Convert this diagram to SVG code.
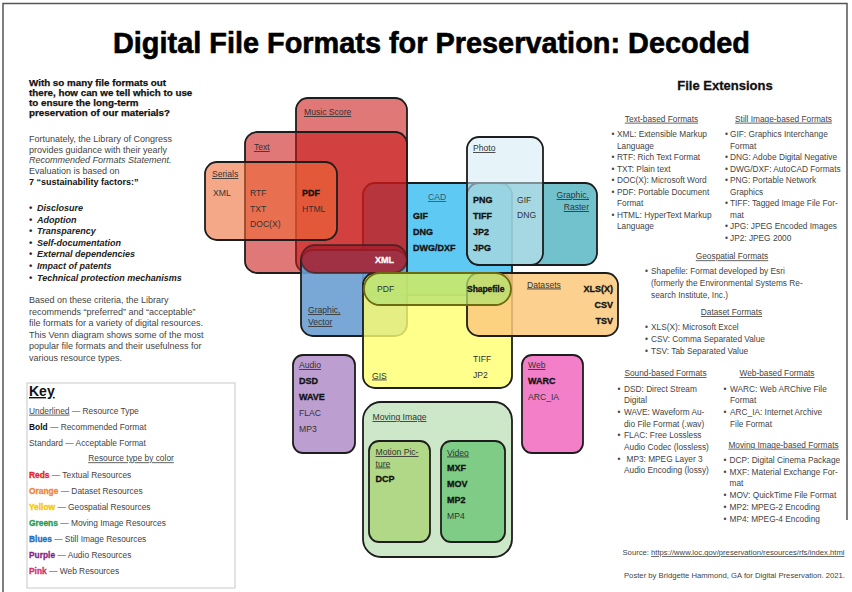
<svg xmlns="http://www.w3.org/2000/svg" width="852" height="592" viewBox="0 0 852 592">
<style>
text{font-family:"Liberation Sans",Arial,Helvetica,sans-serif}
.v{font-size:8.6px;fill:#333}
.vb{font-size:9px;font-weight:bold;fill:#111;stroke:#111;stroke-width:0.3}
.u{text-decoration:underline}
.bx{stroke:#1d1d1d;stroke-width:1.8}
.p{font-size:9px;fill:#444}
.h{font-size:9.8px;font-weight:bold;fill:#111;stroke:#111;stroke-width:0.25}
.bi{font-size:9px;font-weight:bold;font-style:italic;fill:#222}
.k{font-size:8.4px;fill:#444}
.kc{font-weight:bold;stroke-width:0.3}
.r{font-size:8.3px;fill:#444}
.rh{font-size:8.3px;fill:#444;text-decoration:underline;text-anchor:middle}
.s{font-size:7.6px;fill:#444}
.red{fill:#ca1818;fill-opacity:0.585}
</style>
<rect x="0" y="0" width="852" height="592" fill="#fff"/>
<g id="frame" fill="none" stroke="#555" stroke-width="1.5">
<path d="M3 592 V3.5 H847 V520"/>
</g>
<text id="title" x="431.5" y="53" text-anchor="middle" font-size="29" font-weight="bold" fill="#000" stroke="#000" stroke-width="0.6" textLength="637" lengthAdjust="spacingAndGlyphs">Digital File Formats for Preservation: Decoded</text>

<g id="intro">
<text class="h" x="29" y="86">With so many file formats out</text>
<text class="h" x="29" y="96">there, how can we tell which to use</text>
<text class="h" x="29" y="105.8">to ensure the long-term</text>
<text class="h" x="29" y="115.7">preservation of our materials?</text>
<text class="p" x="29" y="141.7">Fortunately, the Library of Congress</text>
<text class="p" x="29" y="152.5">provides guidance with their yearly</text>
<text class="p" x="29" y="163.3" font-style="italic">Recommended Formats Statement.</text>
<text class="p" x="29" y="174.1">Evaluation is based on</text>
<text class="p" x="29" y="185" style="font-weight:bold;fill:#111">7 “sustainability factors:”</text>
<g class="bi">
<text x="29" y="211">• <tspan x="37">Disclosure</tspan></text>
<text x="29" y="222.6">• <tspan x="37">Adoption</tspan></text>
<text x="29" y="234.2">• <tspan x="37">Transparency</tspan></text>
<text x="29" y="245.8">• <tspan x="37">Self-documentation</tspan></text>
<text x="29" y="257.4">• <tspan x="37">External dependencies</tspan></text>
<text x="29" y="269">• <tspan x="37">Impact of patents</tspan></text>
<text x="29" y="280.6">• <tspan x="37">Technical protection mechanisms</tspan></text>
</g>
<text class="p" x="29" y="303.3">Based on these criteria, the Library</text>
<text class="p" x="29" y="314.8">recommends “preferred” and “acceptable”</text>
<text class="p" x="29" y="326.3">file formats for a variety of digital resources.</text>
<text class="p" x="29" y="337.8">This Venn diagram shows some of the most</text>
<text class="p" x="29" y="349.3">popular file formats and their usefulness for</text>
<text class="p" x="29" y="360.8">various resource types.</text>
</g>

<g id="key">
<rect x="27" y="383" width="208" height="205" fill="#fff" stroke="#c8c8c8" stroke-width="1"/>
<text x="29" y="396" font-size="14" font-weight="bold" fill="#111" class="u">Key</text>
<text class="k" x="29" y="413.7"><tspan class="u">Underlined</tspan> — Resource Type</text>
<text class="k" x="29" y="429.7"><tspan style="font-weight:bold;fill:#111">Bold</tspan> — Recommended Format</text>
<text class="k" x="29" y="445.7">Standard — Acceptable Format</text>
<text class="k u" x="131" y="461.3" text-anchor="middle">Resource type by color</text>
<text class="k" x="29" y="478"><tspan class="kc" style="fill:#e8202a;stroke:#e8202a">Reds</tspan> — Textual Resources</text>
<text class="k" x="29" y="494"><tspan class="kc" style="fill:#f08536;stroke:#f08536">Orange</tspan> — Dataset Resources</text>
<text class="k" x="29" y="510"><tspan class="kc" style="fill:#f6c700;stroke:#f6c700">Yellow</tspan> — Geospatial Resources</text>
<text class="k" x="29" y="526"><tspan class="kc" style="fill:#1f9e4f;stroke:#1f9e4f">Greens</tspan> — Moving Image Resources</text>
<text class="k" x="29" y="542"><tspan class="kc" style="fill:#1f6fbf;stroke:#1f6fbf">Blues</tspan> — Still Image Resources</text>
<text class="k" x="29" y="558"><tspan class="kc" style="fill:#8a1f8a;stroke:#8a1f8a">Purple</tspan> — Audio Resources</text>
<text class="k" x="29" y="574"><tspan class="kc" style="fill:#d0306e;stroke:#d0306e">Pink</tspan> — Web Resources</text>
</g>

<g id="venn">
<g id="cad">
<rect class="bx" x="363" y="183" width="149" height="112" rx="12" fill="#4cc4f2" fill-opacity="0.9"/>
</g>
<g id="graphic-raster">
<rect class="bx" x="467" y="183" width="130" height="82" rx="12" fill="#4fb3c0" fill-opacity="0.8"/>
</g>
<g id="photo">
<rect class="bx" x="467" y="137" width="76" height="128" rx="12" fill="#d2ebf6" fill-opacity="0.55"/>
</g>
<g id="music-score">
<rect class="bx red" x="296" y="98" width="111" height="175" rx="12"/>
</g>
<g id="text-box">
<rect class="bx red" x="245" y="132" width="162" height="141" rx="12"/>
</g>
<g id="serials">
<rect class="bx" x="205" y="162" width="132" height="78" rx="12" fill="#ee6932" fill-opacity="0.58"/>
</g>
<g id="graphic-vector">
<rect class="bx" x="301" y="250" width="106" height="86" rx="12" fill="#6a9fd2" fill-opacity="0.9"/>
</g>
<g id="gis">
<rect class="bx" x="363" y="273" width="149" height="115" rx="12" fill="#ffff6e" fill-opacity="0.8"/>
</g>
<g id="datasets">
<rect class="bx" x="467" y="273" width="151" height="63" rx="12" fill="#fcc97c" fill-opacity="0.85"/>
</g>
<g id="xml-pill">
<rect class="bx" x="301" y="245" width="106" height="28" rx="14" fill="#a81f2d" fill-opacity="0.85" stroke-opacity="0.6"/>
</g>
<g id="geo-pill">
<rect x="364" y="273" width="147" height="32" rx="16" fill="#b4e070" fill-opacity="0.75" stroke="#6e6a10" stroke-width="1.8"/>
</g>
<g id="audio">
<rect class="bx" x="293" y="355" width="62" height="98" rx="10" fill="#bd9ed0"/>
</g>
<g id="web">
<rect class="bx" x="522" y="355" width="61" height="98" rx="10" fill="#f27fc8"/>
</g>
<g id="moving-image">
<rect class="bx" x="363" y="402" width="149" height="155" rx="18" fill="#cde8c8"/>
</g>
<g id="motion-picture">
<rect class="bx" x="369" y="441" width="61" height="101" rx="10" fill="#b0d886"/>
</g>
<g id="video">
<rect class="bx" x="441" y="441" width="64" height="101" rx="10" fill="#7fcc86"/>
</g>

<g id="venn-labels">
<text class="v u" x="304" y="115">Music Score</text>
<text class="v u" x="254" y="150">Text</text>
<text class="v u" x="212" y="177">Serials</text>
<text class="v" x="213" y="196">XML</text>
<text class="v" x="250" y="196">RTF</text>
<text class="v" x="250" y="211.5">TXT</text>
<text class="v" x="250" y="227">DOC(X)</text>
<text class="vb" x="302" y="196">PDF</text>
<text class="v" x="302" y="211.5">HTML</text>
<text class="vb" x="375" y="262.5" style="fill:#fff;stroke:#fff">XML</text>
<text class="v" x="377" y="292">PDF</text>
<text class="v u" x="308" y="313">Graphic,</text>
<text class="v u" x="308" y="325">Vector</text>
<text class="v u" x="428" y="200" style="fill:#3a5570">CAD</text>
<text class="vb" x="413" y="219">GIF</text>
<text class="vb" x="413" y="235">DNG</text>
<text class="vb" x="413" y="250.5">DWG/DXF</text>
<text class="v u" x="473" y="151">Photo</text>
<text class="vb" x="473" y="203">PNG</text>
<text class="vb" x="473" y="219">TIFF</text>
<text class="vb" x="473" y="234.5">JP2</text>
<text class="vb" x="473" y="250.5">JPG</text>
<text class="v" x="517" y="202.5">GIF</text>
<text class="v" x="517" y="218">DNG</text>
<text class="v u" x="589" y="198" text-anchor="end">Graphic,</text>
<text class="v u" x="589" y="210" text-anchor="end">Raster</text>
<text class="vb" x="467" y="291.5" style="font-size:8.6px" letter-spacing="-0.1">Shapefile</text>
<text class="v u" x="527" y="287.5">Datasets</text>
<text class="vb" x="613" y="291.5" text-anchor="end">XLS(X)</text>
<text class="vb" x="613" y="307.5" text-anchor="end">CSV</text>
<text class="vb" x="613" y="323.5" text-anchor="end">TSV</text>
<text class="v u" x="372" y="378.5">GIS</text>
<text class="v" x="473" y="361.5">TIFF</text>
<text class="v" x="473" y="378">JP2</text>
<text class="v u" x="299" y="368">Audio</text>
<text class="vb" x="299" y="384">DSD</text>
<text class="vb" x="299" y="400">WAVE</text>
<text class="v" x="299" y="416">FLAC</text>
<text class="v" x="299" y="432">MP3</text>
<text class="v u" x="528" y="368">Web</text>
<text class="vb" x="528" y="384">WARC</text>
<text class="v" x="528" y="400">ARC_IA</text>
<text class="v u" x="372.5" y="420">Moving Image</text>
<text class="v u" x="375.5" y="455">Motion Pic-</text>
<text class="v u" x="375.5" y="466.5">ture</text>
<text class="vb" x="375.5" y="482">DCP</text>
<text class="v u" x="447" y="455.5">Video</text>
<text class="vb" x="447" y="471">MXF</text>
<text class="vb" x="447" y="486.5">MOV</text>
<text class="vb" x="447" y="502.5">MP2</text>
<text class="v" x="447" y="519">MP4</text>
</g>
</g>

<g id="extensions">
<text x="725" y="90" text-anchor="middle" font-size="13" font-weight="bold" fill="#111" stroke="#111" stroke-width="0.3">File Extensions</text>
<text class="rh" x="661.5" y="121.7">Text-based Formats</text>
<text class="rh" x="783.5" y="121.7">Still Image-based Formats</text>
<g class="r">
<text x="611.5" y="136.7">•</text><text x="617" y="136.7">XML: Extensible Markup</text>
<text x="617" y="148.5">Language</text>
<text x="611.5" y="160">•</text><text x="617" y="160">RTF: Rich Text Format</text>
<text x="611.5" y="171.5">•</text><text x="617" y="171.5">TXT: Plain text</text>
<text x="611.5" y="183">•</text><text x="617" y="183">DOC(X): Microsoft Word</text>
<text x="611.5" y="194.5">•</text><text x="617" y="194.5">PDF: Portable Document</text>
<text x="617" y="206">Format</text>
<text x="611.5" y="217.7">•</text><text x="617" y="217.7">HTML: HyperText Markup</text>
<text x="617" y="229.3">Language</text>

<text x="725" y="136.7">•</text><text x="730" y="136.7">GIF: Graphics Interchange</text>
<text x="730" y="148.5">Format</text>
<text x="725" y="160">•</text><text x="730" y="160">DNG: Adobe Digital Negative</text>
<text x="725" y="171.5">•</text><text x="730" y="171.5">DWG/DXF: AutoCAD Formats</text>
<text x="725" y="183">•</text><text x="730" y="183">PNG: Portable Network</text>
<text x="730" y="194.5">Graphics</text>
<text x="725" y="206">•</text><text x="730" y="206">TIFF: Tagged Image File For-</text>
<text x="730" y="217.7">mat</text>
<text x="725" y="229.3">•</text><text x="730" y="229.3">JPG: JPEG Encoded Images</text>
<text x="725" y="240.8">•</text><text x="730" y="240.8">JP2: JPEG 2000</text>
</g>
<text class="rh" x="732" y="259.3">Geospatial Formats</text>
<g class="r">
<text x="645" y="274">•</text><text x="651" y="274">Shapefile: Format developed by Esri</text>
<text x="651" y="285.8">(formerly the Environmental Systems Re-</text>
<text x="651" y="297.6">search Institute, Inc.)</text>
</g>
<text class="rh" x="731.5" y="315">Dataset Formats</text>
<g class="r">
<text x="645" y="330">•</text><text x="651" y="330">XLS(X): Microsoft Excel</text>
<text x="645" y="342.2">•</text><text x="651" y="342.2">CSV: Comma Separated Value</text>
<text x="645" y="354">•</text><text x="651" y="354">TSV: Tab Separated Value</text>
</g>
<text class="rh" x="665.5" y="376">Sound-based Formats</text>
<text class="rh" x="777" y="376">Web-based Formats</text>
<g class="r">
<text x="617.5" y="391.7">•</text><text x="624" y="391.7">DSD: Direct Stream</text>
<text x="624" y="403">Digital</text>
<text x="617.5" y="415">•</text><text x="624" y="415">WAVE: Waveform Au-</text>
<text x="624" y="426.7">dio File Format (.wav)</text>
<text x="617.5" y="438.3">•</text><text x="624" y="438.3">FLAC: Free Lossless</text>
<text x="624" y="450">Audio Codec (lossless)</text>
<text x="617.5" y="461.7">•</text><text x="626.5" y="461.7">MP3: MPEG Layer 3</text>
<text x="624" y="473.3">Audio Encoding (lossy)</text>

<text x="723.5" y="391.7">•</text><text x="730" y="391.7">WARC: Web ARChive File</text>
<text x="730" y="403">Format</text>
<text x="723.5" y="415">•</text><text x="730" y="415">ARC_IA: Internet Archive</text>
<text x="730" y="426.7">File Format</text>
</g>
<text class="rh" x="783.5" y="447.7">Moving Image-based Formats</text>
<g class="r">
<text x="723.5" y="463.3">•</text><text x="729.5" y="463.3">DCP: Digital Cinema Package</text>
<text x="723.5" y="475">•</text><text x="729.5" y="475">MXF: Material Exchange For-</text>
<text x="729.5" y="486.3">mat</text>
<text x="723.5" y="498">•</text><text x="729.5" y="498">MOV: QuickTime File Format</text>
<text x="723.5" y="510">•</text><text x="729.5" y="510">MP2: MPEG-2 Encoding</text>
<text x="723.5" y="521.7">•</text><text x="729.5" y="521.7">MP4: MPEG-4 Encoding</text>
</g>
<text class="s" x="622.5" y="555" textLength="222" lengthAdjust="spacingAndGlyphs">Source: <tspan class="u">https://www.loc.gov/preservation/resources/rfs/index.html</tspan></text>
<text class="s" x="624" y="578.3" textLength="221" lengthAdjust="spacingAndGlyphs">Poster by Bridgette Hammond, GA for Digital Preservation. 2021.</text>
</g>
</svg>
